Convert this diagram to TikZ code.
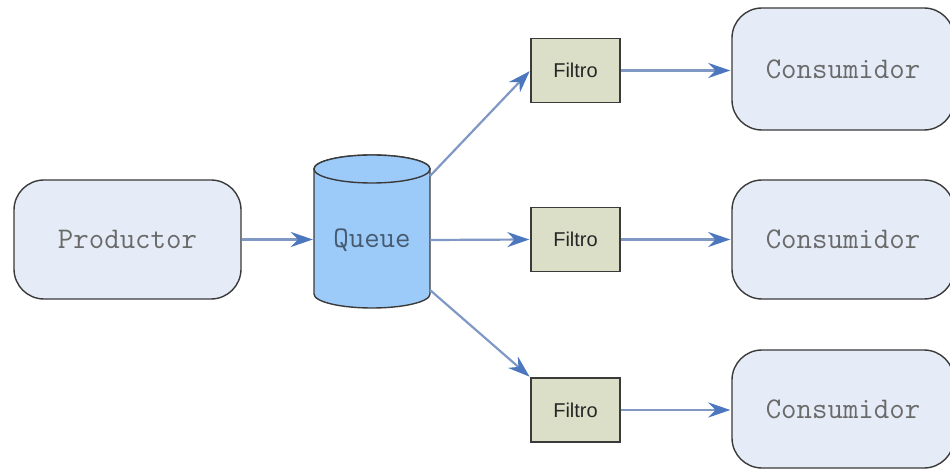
\documentclass[tikz,border=0pt]{standalone}
\usepackage{fontspec}
\usetikzlibrary{arrows.meta}
\newfontfamily\sansf{Liberation Sans}
\definecolor{boxfill}{HTML}{E6ECF7}
\definecolor{boxline}{HTML}{3A3A3A}
\definecolor{qfill}{HTML}{9CCBFA}
\definecolor{ffill}{HTML}{DCDFC8}
\definecolor{lnc}{HTML}{8098C4}
\definecolor{headc}{HTML}{4C76BE}
\definecolor{txtc}{HTML}{6A6A6A}
\begin{document}
\begin{tikzpicture}[x=1pt,y=-1pt,
  roundbox/.style={draw=boxline, line width=1.4pt, fill=boxfill, rounded corners=30pt,
     inner sep=0pt, font=\ttfamily\fontsize{30}{30}\selectfont, text=txtc},
  filterbox/.style={draw=boxline, line width=1.3pt, fill=ffill, minimum width=89pt,
     minimum height=64pt, inner sep=0pt, font=\sansf\fontsize{20}{20}\selectfont, text=black!85},
  flow/.style={draw=lnc, line width=2.2pt, -{Stealth[length=22pt,width=15pt,color=headc]}, shorten >=1pt}]
\useasboundingbox (0,0) rectangle (950,470);
\fill[white] (0,0) rectangle (950,470);
% nodes
\node[roundbox, minimum width=227pt, minimum height=119pt] (prod) at (127.5,239.5) {Productor};
\node[filterbox] (f1) at (575.5,70.5) {Filtro};
\node[filterbox] (f2) at (575.5,239.5) {Filtro};
\node[filterbox] (f3) at (575.5,410) {Filtro};
\node[roundbox, minimum width=222pt, minimum height=122pt] (c1) at (843,69) {Consumidor};
\node[roundbox, minimum width=222pt, minimum height=119pt] (c2) at (843,239.5) {Consumidor};
\node[roundbox, minimum width=222pt, minimum height=118pt] (c3) at (843,409) {Consumidor};
% queue cylinder
\node[inner sep=0pt, minimum width=116pt, minimum height=153pt] (queue) at (372,231.5) {};
\draw[boxline, line width=1.4pt, fill=qfill]
  (314,169) -- (314,294) arc[start angle=180, end angle=360, x radius=58pt, y radius=14pt]
  -- (430,169) arc[start angle=0, end angle=180, x radius=58pt, y radius=14pt] -- cycle;
\draw[boxline, line width=1.4pt, fill=qfill]
  (372,169) ellipse[x radius=58pt, y radius=14pt];
\node[font=\ttfamily\fontsize{30}{30}\selectfont, text=black!55!qfill] (qlabel) at (372,240) {Queue};
\coordinate (qa) at (430,176);
\coordinate (qb) at (430,240);
\coordinate (qc) at (430,290);
% connectors
\draw[flow] (prod.east) -- (queue.west |- prod.east);
\draw[flow] (qa) -- (f1.west);
\draw[flow] (qb) -- (f2.west);
\draw[flow] (qc) -- (f3.north west);
\draw[flow] (f1.east) -- (c1.west |- f1.east);
\draw[flow] (f2.east) -- (c2.west |- f2.east);
\draw[flow] (f3.east) -- (c3.west |- f3.east);
\end{tikzpicture}
\end{document}
